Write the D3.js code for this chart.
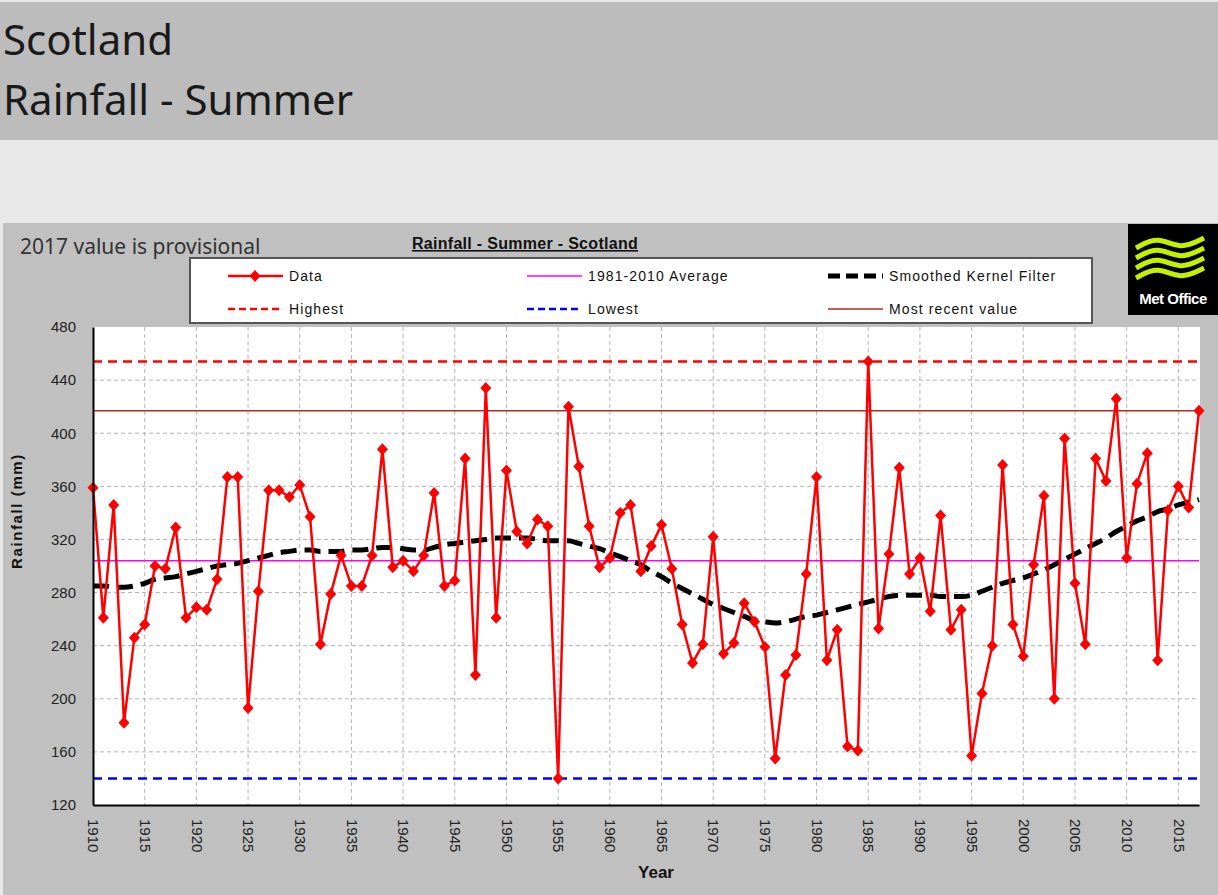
<!DOCTYPE html>
<html>
<head>
<meta charset="utf-8">
<script src="https://cdnjs.cloudflare.com/ajax/libs/d3/7.8.5/d3.min.js"></script>
<style>
  body { margin: 0; background: #e8e8e8; }
  svg { display: block; }
</style>
</head>
<body>
<div id="container"></div>
<script>
// Summer rainfall for Scotland, mm
const firstYear = 1910;
const rainfall = [
  359, 261, 346, 182, 246, 256, 300, 298, 329, 261,
  269, 267, 290, 367, 367, 193, 281, 357, 357, 352,
  361, 337, 241, 279, 308, 285, 285, 308, 388, 299,
  304, 296, 308, 355, 285, 289, 381, 218, 434, 261,
  372, 326, 317, 335, 330, 140, 420, 375, 330, 299,
  306, 340, 346, 296, 315, 331, 298, 256, 227, 241,
  322, 234, 242, 272, 258, 239, 155, 218, 233, 294,
  367, 229, 252, 164, 161, 454, 253, 309, 374, 294,
  306, 266, 338, 252, 267, 157, 204, 240, 376, 256,
  232, 301, 353, 200, 396, 287, 241, 381, 364, 426,
  306, 362, 385, 229, 342, 360, 344, 417
];
// Smoothed kernel filter, mm
const smoothed = [
  285, 285, 284, 284, 285, 287, 290, 291, 292, 294,
  296, 298, 300, 301, 302, 304, 306, 308, 310, 311,
  312, 312, 311, 311, 311, 312, 312, 313, 314, 314,
  313, 312, 312, 314, 316, 317, 318, 319, 320, 321,
  321, 321, 321, 320, 319, 319, 319, 317, 315, 313,
  310, 307, 304, 301, 296, 292, 287, 283, 279, 275,
  271, 268, 265, 262, 259, 258, 257, 258, 260, 262,
  263, 265, 267, 269, 271, 273, 275, 277, 278, 278,
  278, 278, 277, 277, 277, 278, 281, 284, 287, 289,
  291, 294, 297, 301, 305, 309, 313, 317, 321, 326,
  330, 334, 337, 341, 343, 346, 348, 350
];
const years = rainfall.map((d, i) => firstYear + i);

const highest = 454;
const lowest = 140;
const average = 304;
const mostRecent = 417;

const xTicks = d3.range(1910, 2016, 5);
const yTicks = [120, 160, 200, 240, 280, 320, 360, 400, 440, 480];

const legendLabels = ["Data", "1981-2010 Average", "Smoothed Kernel Filter",
                      "Highest", "Lowest", "Most recent value"];

const W = 1218, H = 895;
const plot = { left: 93, right: 1199, top: 327, bottom: 805 };

const svg = d3.select("#container").append("svg")
    .attr("width", W)
    .attr("height", H);

// page bands
svg.append("rect").attr("width", W).attr("height", H).attr("fill", "#e8e8e8");
svg.append("rect").attr("x", 0).attr("y", 2).attr("width", W).attr("height", 138).attr("fill", "#bcbcbc");
svg.append("rect").attr("x", 3).attr("y", 223).attr("width", W - 3).attr("height", H - 223).attr("fill", "#c0c0c0");

// header
const headFont = "'Noto Sans', 'Open Sans', sans-serif";
svg.append("text").attr("x", 3).attr("y", 55)
    .style("font-family", headFont).style("font-size", "42px").attr("fill", "#1a1a1a")
    .text("Scotland");
svg.append("text").attr("x", 3).attr("y", 115)
    .style("font-family", headFont).style("font-size", "42px").attr("fill", "#1a1a1a")
    .text("Rainfall - Summer");

svg.append("text").attr("x", 20).attr("y", 254)
    .style("font-family", headFont).style("font-size", "21px").attr("fill", "#333")
    .text("2017 value is provisional");

svg.append("text").attr("x", 525).attr("y", 249)
    .attr("text-anchor", "middle")
    .style("font-family", "'Liberation Sans', Arial, sans-serif")
    .style("font-size", "16px").style("font-weight", "bold")
    .style("letter-spacing", "0.3px")
    .style("text-decoration", "underline")
    .attr("fill", "#111")
    .text("Rainfall - Summer - Scotland");

// scales
const x = d3.scaleLinear().domain([1910, 2017]).range([plot.left, plot.right]);
const y = d3.scaleLinear().domain([120, 480]).range([plot.bottom, plot.top]);

// plot background
svg.append("rect")
    .attr("x", plot.left).attr("y", plot.top)
    .attr("width", plot.right - plot.left + 1).attr("height", plot.bottom - plot.top)
    .attr("fill", "#fff");

// grid
const grid = svg.append("g").attr("stroke", "#b4b4b4").attr("stroke-width", 1)
    .attr("stroke-dasharray", "4,3");
grid.selectAll(".gx").data(xTicks.slice(1)).join("line")
    .attr("x1", d => x(d)).attr("x2", d => x(d))
    .attr("y1", plot.top).attr("y2", plot.bottom);
grid.selectAll(".gy").data(yTicks.slice(1, -1)).join("line")
    .attr("x1", plot.left).attr("x2", plot.right)
    .attr("y1", d => y(d)).attr("y2", d => y(d));

// reference lines
function hline(v, color, width, dash) {
  svg.append("line")
      .attr("x1", plot.left).attr("x2", plot.right)
      .attr("y1", y(v)).attr("y2", y(v))
      .attr("stroke", color).attr("stroke-width", width)
      .attr("stroke-dasharray", dash);
}
hline(highest, "#ff0000", 2.5, "9,6");
hline(mostRecent, "#b22a2a", 1.5, null);
hline(average, "#ff00ff", 1.5, null);
hline(lowest, "#0000ff", 2.5, "9,6");

// smoothed line
svg.append("path")
    .datum(smoothed)
    .attr("fill", "none")
    .attr("stroke", "#000")
    .attr("stroke-width", 5)
    .attr("stroke-dasharray", "16,8")
    .attr("d", d3.line().x((d, i) => x(years[i])).y(d => y(d)).curve(d3.curveMonotoneX));

// data line
svg.append("path")
    .datum(rainfall)
    .attr("fill", "none")
    .attr("stroke", "#ff0000")
    .attr("stroke-width", 2.5)
    .attr("d", d3.line().x((d, i) => x(years[i])).y(d => y(d)));

// chunky diamond marker
const diamond = "M0,-6L5.5,0L0,6L-5.5,0Z";
svg.append("g").selectAll("path").data(rainfall).join("path")
    .attr("transform", (d, i) => "translate(" + x(years[i]) + "," + y(d) + ")")
    .attr("d", diamond)
    .attr("fill", "#ff0000");

// axes
const axisFont = "'Liberation Sans', Arial, sans-serif";
const yAxis = svg.append("g")
    .attr("transform", "translate(" + plot.left + ",0)")
    .call(d3.axisLeft(y).tickValues(yTicks).tickSize(0).tickPadding(17));
yAxis.select(".domain").attr("stroke", "#000").attr("stroke-width", 2);
yAxis.selectAll("text").style("font-family", axisFont).style("font-size", "15px").attr("fill", "#222");

const xAxis = svg.append("g")
    .attr("transform", "translate(0," + plot.bottom + ")")
    .call(d3.axisBottom(x).tickValues(xTicks).tickFormat(d3.format("d")).tickSize(0));
xAxis.select(".domain").attr("stroke", "#000").attr("stroke-width", 2);
xAxis.selectAll("text")
    .style("font-family", axisFont).style("font-size", "15px").attr("fill", "#222")
    .attr("transform", "rotate(90)")
    .attr("x", 14).attr("y", 0).attr("dy", "0.35em")
    .style("text-anchor", "start");

svg.append("text")
    .attr("x", 656).attr("y", 878)
    .attr("text-anchor", "middle")
    .style("font-family", axisFont).style("font-size", "17px").style("font-weight", "bold")
    .attr("fill", "#111")
    .text("Year");

svg.append("text")
    .attr("transform", "translate(22,511) rotate(-90)")
    .attr("text-anchor", "middle")
    .style("font-family", axisFont).style("font-size", "15px").style("font-weight", "bold")
    .style("letter-spacing", "1.6px")
    .attr("fill", "#111")
    .text("Rainfall (mm)");

// legend
const legend = svg.append("g");
legend.append("rect")
    .attr("x", 190).attr("y", 258).attr("width", 902).attr("height", 65)
    .attr("fill", "#fff").attr("stroke", "#555").attr("stroke-width", 2);

const legendStyles = [
  { color: "#ff0000", width: 2.5, dash: null, marker: true },
  { color: "#ff00ff", width: 1.5, dash: null },
  { color: "#000", width: 5, dash: "12,6" },
  { color: "#ff0000", width: 2.5, dash: "7,4" },
  { color: "#0000ff", width: 2.5, dash: "7,4" },
  { color: "#b22a2a", width: 1.5, dash: null }
];
const colX = [228, 527, 828];
const rowY = [276, 309];
legendLabels.forEach((label, i) => {
  const cx = colX[i % 3], cy = rowY[Math.floor(i / 3)];
  const st = legendStyles[i];
  legend.append("line")
      .attr("x1", cx).attr("x2", cx + 55)
      .attr("y1", cy).attr("y2", cy)
      .attr("stroke", st.color).attr("stroke-width", st.width)
      .attr("stroke-dasharray", st.dash);
  if (st.marker) {
    legend.append("path")
        .attr("transform", "translate(" + (cx + 27) + "," + cy + ")")
        .attr("d", diamond).attr("fill", st.color);
  }
  legend.append("text")
      .attr("x", cx + 61).attr("y", cy).attr("dy", "0.35em")
      .style("font-family", axisFont).style("font-size", "14px")
      .style("letter-spacing", "1.1px")
      .attr("fill", "#111")
      .text(label);
});

// Met Office logo
const logo = svg.append("g").attr("transform", "translate(1128,224)");
logo.append("rect").attr("width", 90).attr("height", 91).attr("fill", "#000");
const wave = d3.line().curve(d3.curveBasis);
[0, 1, 2, 3].forEach(k => {
  const y0 = 18 + k * 10;
  logo.append("path")
      .attr("d", wave([[8, y0 + 6], [30, y0 - 6], [52, y0 + 8], [76, y0 - 4]]))
      .attr("fill", "none").attr("stroke", "#c6f000").attr("stroke-width", 5);
});
logo.append("text")
    .attr("x", 45).attr("y", 80)
    .attr("text-anchor", "middle")
    .style("font-family", axisFont).style("font-size", "15px").style("font-weight", "bold")
    .style("letter-spacing", "-0.5px")
    .attr("fill", "#fff")
    .text("Met Office");
</script>
</body>
</html>
